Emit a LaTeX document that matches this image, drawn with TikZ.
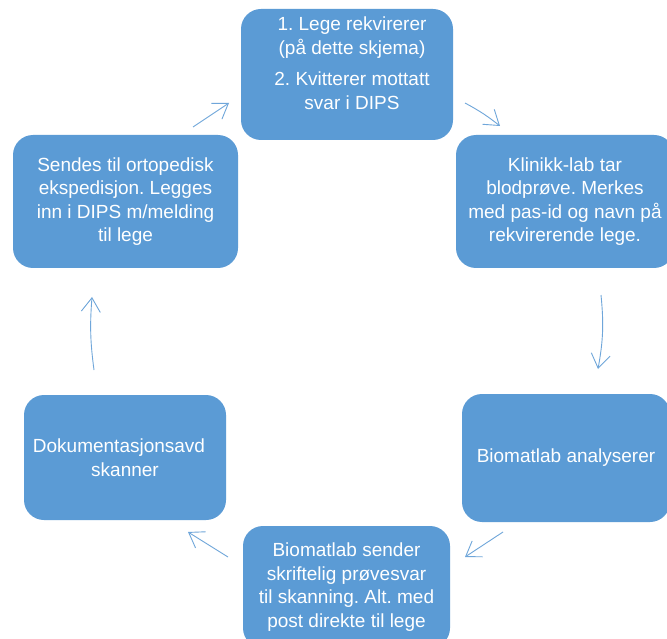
\documentclass[tikz,border=0pt]{standalone}
\usepackage{fontspec}
\setmainfont{Liberation Sans}
\usetikzlibrary{arrows.meta}
\definecolor{boxblue}{HTML}{5B9BD5}
\definecolor{arrblue}{HTML}{6FA6DA}
\tikzset{
  box/.style={draw=none, fill=boxblue, rounded corners=20pt, inner sep=0pt, minimum width=#1},
  boxtext/.style={text=white, align=center, font=\fontsize{19}{23.5}\selectfont\frenchspacing, inner sep=0pt},
  conn/.style={draw=arrblue, line width=0.9pt, -{Straight Barb[length=14pt,width=19pt,line width=0.9pt]}},
}
\begin{document}
\begin{tikzpicture}[x=1pt,y=-1pt]
\clip (0,0) rectangle (667,639);
\fill[white] (0,0) rectangle (667,639);
% boxes
\node[box=212pt, minimum height=131pt] (b1) at (347,74.5) {};
\node[boxtext] (t1) at (352,63) {1. Lege rekvirerer\\(på dette skjema)\\[8pt]2. Kvitterer mottatt\\svar i DIPS};
\node[box=218pt, minimum height=133pt, boxtext] (b2) at (565,201.5) {Klinikk-lab tar\\blodprøve. Merkes\\med pas-id og navn på\\rekvirerende lege.};
\node[box=208pt, minimum height=128pt, boxtext] (b3) at (566,458) {Biomatlab analyserer};
\node[box=207pt, minimum height=122pt, boxtext] (b4) at (346.5,587) {Biomatlab sender\\skriftelig prøvesvar\\til skanning. Alt. med\\post direkte til lege};
\node[box=202pt, minimum height=125pt, boxtext] (b5) at (125,457.5) {Dokumentasjonsavd\hspace*{12pt}\\skanner};
\node[box=225pt, minimum height=133pt, boxtext] (b6) at (125.5,201.5) {Sendes til ortopedisk\\ekspedisjon. Legges\\inn i DIPS m/melding\\til lege};
% connector ends
\coordinate (a61s) at (193,127); \coordinate (a61e) at (229,103);
\coordinate (a12s) at (465,103); \coordinate (a12e) at (500,126);
\coordinate (a23s) at (601,295); \coordinate (a23e) at (598,369);
\coordinate (a34s) at (503,532); \coordinate (a34e) at (465,557);
\coordinate (a45s) at (228,557); \coordinate (a45e) at (188,532);
\coordinate (a56s) at (94,370);  \coordinate (a56e) at (92,297);
\draw[conn] (a61s) -- (a61e);
\draw[conn] (a12s) to[bend left=5] (a12e);
\draw[conn] (a23s) to[bend left=8] (a23e);
\draw[conn] (a34s) -- (a34e);
\draw[conn] (a45s) -- (a45e);
\draw[conn] (a56s) to[bend left=6] (a56e);
\end{tikzpicture}
\end{document}
